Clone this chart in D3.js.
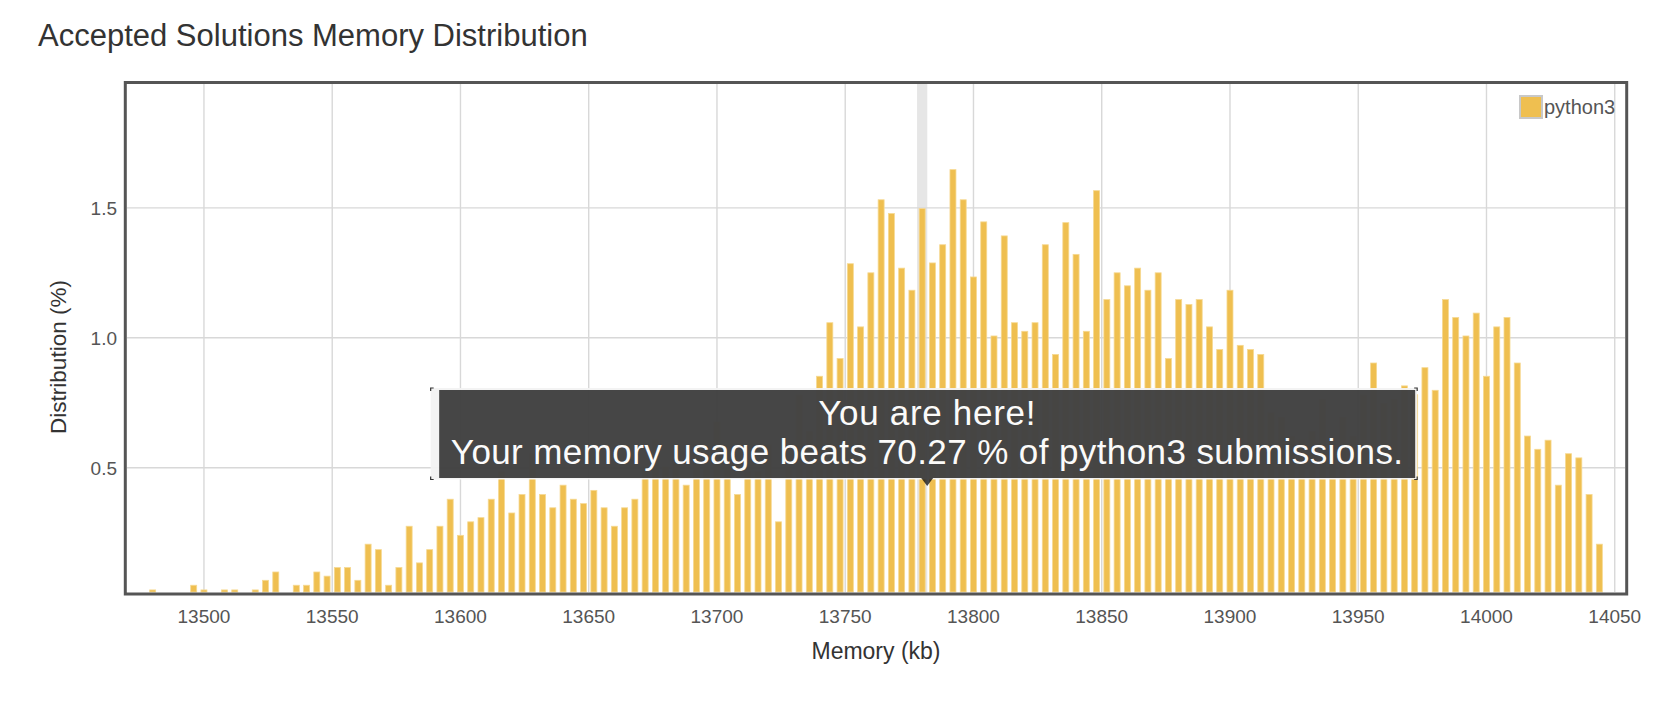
<!DOCTYPE html>
<html><head><meta charset="utf-8">
<script src="https://cdn.jsdelivr.net/npm/d3@7"></script>
<style>body{margin:0;background:#fff;} svg{display:block;font-family:"Liberation Sans",Arial,sans-serif;}</style>
</head><body>
<svg id="c" width="1665" height="701"></svg>
<script>
const memoryKb = [13480,13496,13500,13508,13512,13520,13524,13528,
13536,13540,13544,13548,13552,13556,13560,13564,13568,13572,13576,13580,13584,13588,13592,13596,13600,13604,13608,13612,13616,13620,13624,13628,13632,13636,13640,13644,13648,13652,13656,13660,13664,13668,13672,13676,13680,13684,13688,13692,13696,13700,13704,13708,13712,13716,13720,13724,13728,13732,13736,13740,13744,13748,13752,13756,13760,13764,13768,13772,13776,13780,13784,13788,13792,13796,13800,13804,13808,13812,13816,13820,13824,13828,13832,13836,13840,13844,13848,13852,13856,13860,13864,13868,13872,13876,13880,13884,13888,13892,13896,13900,13904,13908,13912,13916,13920,13924,13928,13932,13936,13940,13944,13948,13952,13956,13960,13964,13968,13972,13976,13980,13984,13988,13992,13996,14000,14004,14008,14012,14016,14020,14024,14028,14032,14036,14040,14044];
const distribution = [0.03,0.048,0.03,0.03,0.03,0.03,0.067,0.099,
0.048,0.048,0.099,0.083,0.116,0.116,0.067,0.206,0.185,0.048,
0.116,0.275,0.134,0.185,0.275,0.379,0.240,0.292,0.308,0.379,
0.484,0.326,0.397,0.554,0.397,0.346,0.433,0.379,0.362,0.413,
0.346,0.275,0.346,0.379,0.50,0.606,0.503,0.587,0.433,0.587,
0.503,0.676,0.503,0.397,0.484,0.484,0.587,0.292,0.503,0.779,
0.64,0.852,1.058,0.920,1.285,1.042,1.25,1.531,1.478,1.268,
1.183,1.497,1.288,1.358,1.647,1.531,1.234,1.446,1.007,1.392,
1.058,1.025,1.058,1.358,0.936,1.443,1.321,1.025,1.566,1.147,
1.25,1.2,1.268,1.183,1.25,0.920,1.147,1.128,1.147,1.042,
0.955,1.183,0.971,0.955,0.936,0.711,0.693,0.621,0.606,0.64,
0.762,0.606,0.693,0.621,0.779,0.903,0.747,0.762,0.815,0.781,
0.885,0.798,1.147,1.078,1.007,1.095,0.852,1.042,1.078,0.903,
0.622,0.571,0.606,0.433,0.554,0.538,0.397,0.206];
const xTicks = [13500,13550,13600,13650,13700,13750,13800,13850,13900,13950,14000,14050];
const yTicks = [0.5,1.0,1.5];
const seriesName = "python3";
const chartTitle = "Accepted Solutions Memory Distribution";
const xLabel = "Memory (kb)";
const yLabel = "Distribution (%)";
const myMemory = 13780;
const tipLine1 = "You are here!";
const tipLine2 = "Your memory usage beats 70.27 % of python3 submissions.";
const yFloor = 0.022;

const svg = d3.select("#c");
const L = 127, R = 1625, T = 84, B = 592;
const x = d3.scaleLinear().domain([d3.min(memoryKb) - 10, d3.max(memoryKb) + 10]).range([L, R]);
const y = d3.scaleLinear().domain([yFloor, d3.max(distribution) * 1.2]).range([B, T]);
const barColor = "#efbf50";

// title
svg.append("text").attr("x", 38).attr("y", 46).attr("font-size", 31).attr("fill", "#333").text(chartTitle);

// highlight band
const step = x(4) - x(0);
svg.append("rect").attr("x", x(myMemory) - step / 2).attr("y", T).attr("width", step).attr("height", B - T).attr("fill", "#e6e6e6");

// grid
svg.append("g").selectAll("line").data(xTicks).join("line")
  .attr("x1", d => x(d)).attr("x2", d => x(d)).attr("y1", T).attr("y2", B)
  .attr("stroke", "#d8d8d8").attr("stroke-width", 1.4);
svg.append("g").selectAll("line").data(yTicks).join("line")
  .attr("x1", L).attr("x2", R).attr("y1", d => y(d)).attr("y2", d => y(d))
  .attr("stroke", "#d8d8d8").attr("stroke-width", 1.4);

// bars
const data = memoryKb.map((m, i) => ({m, v: distribution[i]}));
svg.append("g").selectAll("rect").data(data).join("rect")
  .attr("x", d => x(d.m) - 3).attr("width", 6)
  .attr("y", d => y(d.v)).attr("height", d => Math.max(2, B - y(d.v)))
  .attr("fill", barColor).attr("stroke", "#f6d992").attr("stroke-width", 0.8);

// axes tick labels
svg.append("g").selectAll("text").data(xTicks).join("text")
  .attr("x", d => x(d)).attr("y", 623).attr("text-anchor", "middle")
  .attr("font-size", 19).attr("fill", "#555").text(d => d);
svg.append("g").selectAll("text").data(yTicks).join("text")
  .attr("x", 117).attr("y", d => y(d) + 7).attr("text-anchor", "end")
  .attr("font-size", 19).attr("fill", "#555").text(d => d3.format(".1f")(d));

// axis labels
svg.append("text").attr("x", 876).attr("y", 659).attr("text-anchor", "middle")
  .attr("font-size", 23).attr("fill", "#333").text(xLabel);
svg.append("text").attr("transform", "translate(66,357) rotate(-90)").attr("text-anchor", "middle")
  .attr("font-size", 22.5).attr("fill", "#333").text(yLabel);

// frame
svg.append("rect").attr("x", 125.3).attr("y", 82.5).attr("width", 1501.4).attr("height", 511.5)
  .attr("fill", "none").attr("stroke", "#555").attr("stroke-width", 3);

// legend
svg.append("rect").attr("x", 1520).attr("y", 96).attr("width", 22).attr("height", 22)
  .attr("fill", barColor).attr("stroke", "#c8c8c8").attr("stroke-width", 2);
svg.append("text").attr("x", 1544).attr("y", 114).attr("font-size", 20).attr("fill", "#555").text(seriesName);

// tooltip
const ax = x(myMemory) + 5;
const tw = 976, th = 88, ty = 390;
const bx0 = ax - tw / 2 - 8.5, bx1 = ax + tw / 2 + 2, by0 = ty - 2, by1 = ty + th + 1.5;
svg.append("rect").attr("x", bx0).attr("y", by0).attr("width", bx1 - bx0).attr("height", by1 - by0)
  .attr("fill", "#f2f2f2").attr("opacity", 0.95);
const corners = svg.append("g").attr("stroke", "#333").attr("stroke-width", 1.2).attr("fill", "none");
corners.append("path").attr("d", `M${bx0},${by0 + 3}V${by0}H${bx0 + 3}`);
corners.append("path").attr("d", `M${bx0},${by1 - 3}V${by1}H${bx0 + 3}`);
corners.append("path").attr("d", `M${bx1},${by0 + 3}V${by0}H${bx1 - 3}`);
corners.append("path").attr("d", `M${bx1},${by1 - 3}V${by1}H${bx1 - 3}`);
const tip = svg.append("g").attr("opacity", 0.71);
tip.append("rect").attr("x", ax - tw / 2).attr("y", ty).attr("width", tw).attr("height", th).attr("fill", "#000");
tip.append("path").attr("d", `M${ax - 6},${ty + th}L${ax + 6},${ty + th}L${ax},${ty + th + 8}Z`).attr("fill", "#000");
tip.append("text").attr("x", ax).attr("y", ty + 34.5).attr("text-anchor", "middle").attr("font-size", 35)
  .attr("letter-spacing", 0.7).attr("fill", "#fff").text(tipLine1);
tip.append("text").attr("x", ax).attr("y", ty + 74).attr("text-anchor", "middle").attr("font-size", 35)
  .attr("letter-spacing", 0.4).attr("fill", "#fff").text(tipLine2);
</script>
</body></html>
